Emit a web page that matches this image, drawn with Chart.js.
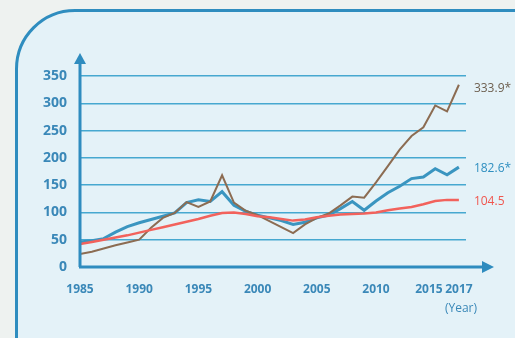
<!DOCTYPE html>
<html lang="en">
<head>
<meta charset="UTF-8">
<title>Index chart</title>
<style>
  html, body { margin: 0; padding: 0; }
  body { width: 515px; height: 338px; background: #eef2f0; position: relative; overflow: hidden; }
  .panel {
    position: absolute; left: 15px; top: 9px; width: 560px; height: 400px;
    border: 3px solid #2f8dbf; border-radius: 60px 0 0 0;
    background: #e4f2f8;
  }
  #wrap { position: absolute; left: 0; top: 0; width: 515px; height: 338px; }
</style>
</head>
<body>
<div class="panel"></div>
<div id="wrap"><canvas id="myChart" width="515" height="338"></canvas></div>

<script src="https://cdn.jsdelivr.net/npm/chart.js@4.4.1/dist/chart.umd.min.js"></script>
<script>
    var years = [];
    for (var y = 1985; y <= 2017; y++) years.push(y);

    var tickYears = [1985, 1990, 1995, 2000, 2005, 2010, 2015, 2017];

    var brownValues = [24, 28, 34, 40, 45, 50, 72, 90, 99, 119, 110, 120, 168, 118, 103, 95,
                       84, 73, 62, 78, 90, 98, 113, 129, 127, 155, 185, 215, 240, 256, 296, 285, 334];
    var blueValues  = [46, 48, 52, 64, 74, 81, 87, 93, 99, 118, 123, 120, 138, 113, 102, 95,
                       90, 85, 78, 82, 90, 95, 107, 120, 104, 121, 136, 148, 162, 165, 180, 169, 183];
    var redValues   = [42, 46, 50, 54, 58, 63, 68, 73, 78, 83, 88, 94, 99, 100, 97, 93,
                       91, 88, 85, 87, 91, 94, 96, 97, 98, 100, 104, 107, 110, 115, 121, 123, 123];

    var endLabels = ['333.9*', '182.6*', '104.5'];

    var tickColor = '#3a88b8';
    var gridColor = '#46a8d0';
    var axisColor = '#2f8cbf';

    function toPoints(vals) {
        return vals.map(function (v, i) { return { x: years[i], y: v }; });
    }

    // axes with arrows + end labels
    var decorPlugin = {
        id: 'decor',
        afterDatasetsDraw: function (chart) {
            var c = chart.ctx, a = chart.chartArea;
            c.save();
            c.strokeStyle = axisColor;
            c.fillStyle = axisColor;
            c.lineWidth = 3;
            c.beginPath();
            c.moveTo(a.left, a.bottom);
            c.lineTo(a.left, 62);
            c.moveTo(a.left - 1, a.bottom);
            c.lineTo(484, a.bottom);
            c.stroke();
            c.beginPath();
            c.moveTo(a.left - 6, 64); c.lineTo(a.left, 53); c.lineTo(a.left + 6, 64);
            c.closePath(); c.fill();
            c.beginPath();
            c.moveTo(482, a.bottom - 6); c.lineTo(494, a.bottom); c.lineTo(482, a.bottom + 6);
            c.closePath(); c.fill();

            c.font = '12px "Open Sans"';
            c.textAlign = 'left';
            c.textBaseline = 'middle';
            chart.data.datasets.forEach(function (ds, i) {
                var meta = chart.getDatasetMeta(i);
                var last = meta.data[meta.data.length - 1];
                c.fillStyle = ds.labelColor;
                c.fillText(ds.endLabel, last.x + 15, last.y + ds.labelShift);
            });

            c.fillStyle = tickColor;
            c.font = '12px "Open Sans"';
            c.textAlign = 'center';
            c.fillText('(Year)', 461, 309);
            c.restore();
        }
    };

    var ctx = document.getElementById('myChart').getContext('2d');
    var myChart = new Chart(ctx, {
        type: 'line',
        data: {
            datasets: [{
                data: toPoints(redValues),
                borderColor: '#f2625c',
                borderWidth: 2.5,
                endLabel: endLabels[2],
                labelColor: '#f0564e',
                labelShift: 2
            }, {
                data: toPoints(brownValues),
                borderColor: '#8c6c52',
                borderWidth: 2,
                endLabel: endLabels[0],
                labelColor: '#6e6050',
                labelShift: 4
            }, {
                data: toPoints(blueValues),
                borderColor: '#3a95c0',
                borderWidth: 3,
                endLabel: endLabels[1],
                labelColor: '#2f8fc0',
                labelShift: 1
            }]
        },
        options: {
            responsive: false,
            animation: false,
            events: [],
            elements: { point: { radius: 0 }, line: { tension: 0 } },
            layout: { padding: { left: 0, top: 76, right: 49, bottom: 0 } },
            plugins: { legend: { display: false }, tooltip: { enabled: false } },
            scales: {
                x: {
                    type: 'linear',
                    min: 1985,
                    max: 2017.6,
                    afterBuildTicks: function (scale) {
                        scale.ticks = tickYears.map(function (v) { return { value: v }; });
                    },
                    afterFit: function (scale) { scale.height = 71; },
                    grid: { display: false },
                    border: { display: false },
                    ticks: {
                        color: tickColor,
                        font: { family: 'Open Sans', size: 12, weight: 'bold' },
                        padding: 7,
                        maxRotation: 0,
                        autoSkip: false,
                        // trailing spaces nudge 2015 left so it clears 2017
                        callback: function (v) { return v === 2015 ? '2015    ' : String(v); }
                    }
                },
                y: {
                    min: 0,
                    max: 350,
                    afterFit: function (scale) { scale.width = 80; },
                    grid: {
                        drawTicks: false,
                        lineWidth: 1.5,
                        color: function (c) { return c.tick.value === 0 ? 'rgba(0,0,0,0)' : gridColor; }
                    },
                    border: { display: false },
                    ticks: {
                        stepSize: 50,
                        color: tickColor,
                        font: { family: 'Open Sans', size: 14, weight: 'bold' },
                        padding: 13
                    }
                }
            }
        },
        plugins: [decorPlugin]
    });
</script>
</body>
</html>
